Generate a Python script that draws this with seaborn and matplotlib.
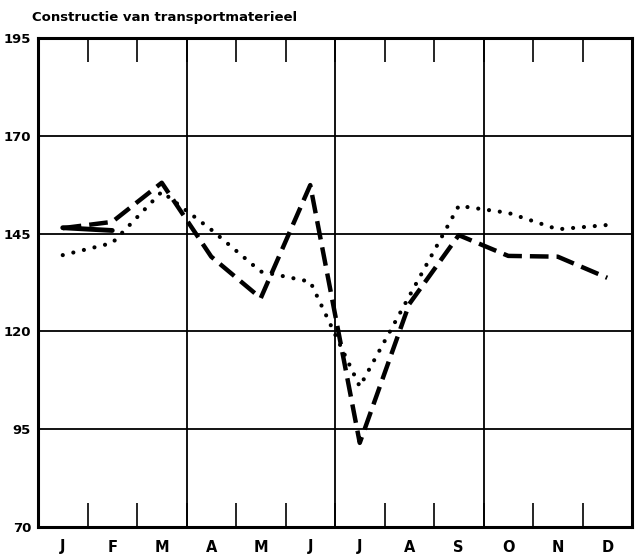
import matplotlib
matplotlib.use("Agg")
import matplotlib.pyplot as plt
import seaborn as sns
import pandas as pd
import numpy as np

months = ["J", "F", "M", "A", "M", "J", "J", "A", "S", "O", "N", "D"]
dashed_vals = [146.4, 148.0, 158.0, 139.1, 128.5, 157.4, 91.5, 127.0, 144.6, 139.3, 139.1, 133.7]
dotted_vals = [139.5, 142.6, 155.7, 146.0, 135.3, 132.7, 105.9, 129.0, 152.1, 150.3, 146.1, 147.2]
solid_vals = [146.5, 145.8]
yticks = [70, 95, 120, 145, 170, 195]
title = "Constructie van transportmaterieel"

sns.set_style("white")
plt.rcParams['font.family'] = ['DejaVu Sans']
plt.rcParams['text.color'] = 'black'
plt.rcParams['xtick.color'] = 'black'
plt.rcParams['ytick.color'] = 'black'
plt.rcParams['xtick.labelcolor'] = 'black'
plt.rcParams['ytick.labelcolor'] = 'black'

fig = plt.figure(figsize=(6.39, 5.6), dpi=100)
ax = fig.add_axes([38/639, 1-527/560, (632-38)/639, (527-38)/560])

x = np.arange(len(months))
df_dash = pd.DataFrame({"m": x, "v": dashed_vals})
df_dot = pd.DataFrame({"m": x, "v": dotted_vals})
df_sol = pd.DataFrame({"m": x[:len(solid_vals)], "v": solid_vals})

sns.lineplot(data=df_dash, x="m", y="v", ax=ax, color="black", lw=3.2,
             linestyle=(0, (4.2, 1.8)))
sns.lineplot(data=df_dot, x="m", y="v", ax=ax, color="black", lw=3.0,
             linestyle=(0, (0.01, 2.6)), dash_capstyle="round")
sns.lineplot(data=df_sol, x="m", y="v", ax=ax, color="black", lw=3.5)

ax.set_xlim(-0.5, 11.5)
ax.set_ylim(70, 195)
ax.set_xticks(x)
ax.set_xticklabels(months, fontsize=10.5, fontweight="bold", color="black")
ax.set_xticks(x[:-1] + 0.5, minor=True)
ax.set_yticks(yticks)
ax.set_yticklabels([str(t) for t in yticks], fontsize=9.5, fontweight="bold", color="black")
ax.tick_params(axis="x", which="major", length=0, pad=9)
ax.tick_params(axis="y", which="major", length=0, pad=5)
ax.tick_params(axis="x", which="minor", direction="in", length=17, width=1.2,
               top=True, bottom=True, color="black")
ax.set_xlabel("")
ax.set_ylabel("")

for yv in yticks[1:-1]:
    ax.axhline(yv, color="black", lw=1.3, zorder=0)
for xv in [2.5, 5.5, 8.5]:
    ax.axvline(xv, color="black", lw=1.3, zorder=0)

for s in ax.spines.values():
    s.set_visible(True)
    s.set_linewidth(2.2)
    s.set_color("black")

fig.text(32/639, 1-18/560, title, fontsize=9.5, fontweight="bold", ha="left",
         va="center", color="black")

fig.savefig("out.png", dpi=100)
